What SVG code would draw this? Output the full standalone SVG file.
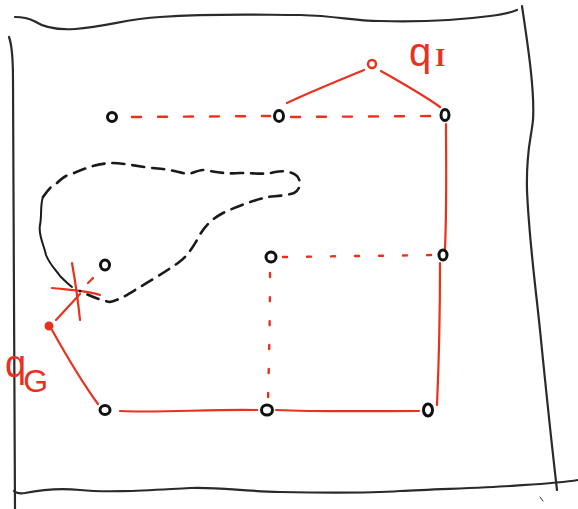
<svg xmlns="http://www.w3.org/2000/svg" width="578" height="509" viewBox="0 0 578 509">
<style>
.frame{fill:none;stroke:#2a2a2a;stroke-width:2.2;stroke-linecap:round}
.node{fill:none;stroke:#111;stroke-width:3}
.rnode{fill:#e8321e;stroke:#e8321e;stroke-width:2}
.r{fill:none;stroke:#e8321e;stroke-width:2.2;stroke-linecap:round}
.rd{fill:none;stroke:#e8321e;stroke-width:2.4;stroke-linecap:round;stroke-dasharray:9 17}
.rdot{fill:none;stroke:#e8321e;stroke-width:2.4;stroke-linecap:round;stroke-dasharray:4 20}
.blob{fill:none;stroke:#1a1a1a;stroke-width:2.6;stroke-linecap:round;stroke-dasharray:12 8}
.blobs{fill:none;stroke:#1a1a1a;stroke-width:2;stroke-linecap:round}
.lbl{fill:#e8321e;font-family:'Liberation Sans',Arial,sans-serif}
.lbls{fill:#e8321e;font-family:'Liberation Serif','Times New Roman',serif}
</style>
<rect width="578" height="509" fill="#ffffff"/>
<g id="frame">
<path class="frame" d="M15,17 C25,17 30,19 34,21 C45,28 60,30 75,29 C110,26 125,19 160,17 C220,13 260,15 300,15 C340,16 350,21 380,21 C420,22 460,20 490,16 C505,14 512,12 517,10"/>
<path class="frame" d="M9,37 C12,45 13,55 13,80 L14,300 L15,509"/>
<path class="frame" d="M522,6 C527,40 535,90 533,120 C531,140 526,150 527,190 C529,240 536,290 540,330 C545,380 550,430 557,490"/>
<path class="frame" d="M14,491 C16,493 18,494 25,493 C40,490 60,488 80,490 C110,493 150,490 190,488 C220,487 240,491 280,492 C330,493 370,493 400,491 C440,489 480,488 510,486 C540,484 560,483 578,480"/>
<path class="frame" d="M540,497 L543,501" style="stroke-width:1"/>
</g>
<g id="connectors">
<path class="r" d="M364,70 C340,80 310,92 287,103"/>
<path class="r" d="M381,71 C400,82 425,96 440,107"/>
<path class="rd" d="M132,117 L270,116"/>
<path class="rd" d="M291,117 L437,116"/>
<path class="r" d="M446,124 C446,160 447,200 445,249"/>
<path class="rdot" d="M283,257 L436,255"/>
<path class="r" d="M440,263 C440,300 439,360 437,405"/>
<path class="rdot" d="M270,273 C270,320 269,360 268,402"/>
<path class="r" d="M120,411 C160,413 210,409 257,410"/>
<path class="r" d="M276,410 C320,412 380,411 419,411"/>
<path class="r" d="M52,330 C66,355 84,385 98,404"/>
<path class="r" d="M56,320 L80,294"/>
<path class="r" d="M88,283 L93,278"/>
<path class="r" d="M52,288 C70,290 88,291 100,295"/>
<path class="r" d="M72,263 C75,280 78,300 80,320"/>
</g>
<g id="blob">
<path class="blobs" d="M43,197 C40,205 42,215 40,225 C38,235 44,245 46,255 C50,265 56,270 60,276 C64,280 68,284 72,287"/>
<path class="blob" d="M43,197 C48,190 52,185 57,183 C62,178 66,175 72,174 C85,168 97,164 110,163 C125,163 145,168 163,169 C178,171 185,175 192,173 C200,170 205,169 210,171 C222,173 230,174 240,173 C255,173 265,175 275,172 C285,170 292,172 297,176 C302,182 300,190 294,193 C285,196 275,196 268,197 C255,200 240,205 223,213 C210,220 203,228 197,240 C190,252 185,258 178,263 C165,272 152,280 140,287 C130,293 120,300 110,302 C100,300 90,296 80,291"/>
</g>
<g id="qI">
<circle class="node" cx="372" cy="64" r="4" style="stroke:#e8321e;stroke-width:2.4"/>
<text class="lbl" x="409" y="66"><tspan font-size="40">q</tspan><tspan class="lbls" font-size="26" font-weight="bold" dx="4">I</tspan></text>
</g>
<g id="qG">
<circle class="rnode" cx="49" cy="326" r="3.5"/>
<text class="lbl" x="5" y="377"><tspan font-size="38">q</tspan><tspan font-size="32" dy="15" dx="-3">G</tspan></text>
</g>
<g id="n_tl"><ellipse class="node" cx="112" cy="117" rx="4.5" ry="4.5"/></g>
<g id="n_tm"><ellipse class="node" cx="279" cy="116" rx="4.5" ry="5.5"/></g>
<g id="n_tr"><ellipse class="node" cx="445" cy="115" rx="4" ry="5.5"/></g>
<g id="n_mm"><ellipse class="node" cx="271" cy="257" rx="5" ry="5"/></g>
<g id="n_mr"><ellipse class="node" cx="443" cy="255" rx="4" ry="5"/></g>
<g id="n_blob"><ellipse class="node" cx="105" cy="265" rx="4.5" ry="5"/></g>
<g id="n_bl"><ellipse class="node" cx="105" cy="410" rx="5" ry="4.5"/></g>
<g id="n_bm"><ellipse class="node" cx="267" cy="410" rx="5.5" ry="5"/></g>
<g id="n_br"><ellipse class="node" cx="428" cy="410" rx="4.5" ry="6"/></g>
</svg>
